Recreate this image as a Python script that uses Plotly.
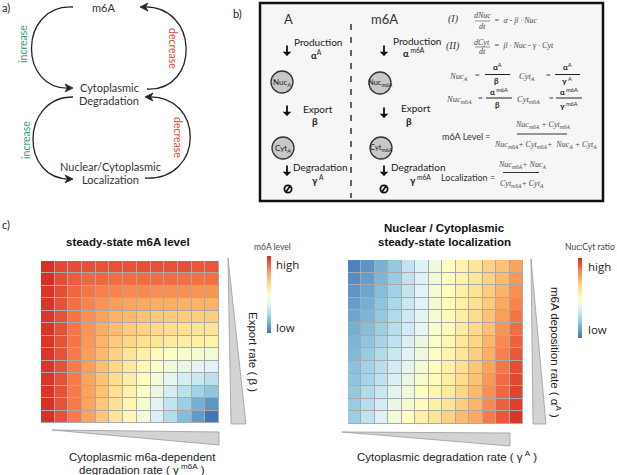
import plotly.graph_objects as go

W, H = 617, 475

# ---------------- data ----------------
grid_rows = list(range(13))
grid_cols = list(range(13))

# steady-state m6A level (rows: top -> bottom, cols: left -> right), 0 = low, 1 = high
m6a_level = [
    [1.00, .95, .94, .93, .93, .93, .93, .93, .93, .93, .93, .92, .92],
    [1.00, .94, .91, .89, .89, .88, .88, .88, .88, .88, .87, .87, .87],
    [.99, .94, .89, .86, .84, .83, .82, .82, .81, .81, .81, .80, .80],
    [.99, .93, .87, .83, .80, .78, .77, .76, .75, .75, .74, .74, .74],
    [.99, .93, .86, .81, .77, .74, .72, .70, .69, .68, .68, .67, .67],
    [.99, .93, .86, .80, .75, .71, .68, .66, .64, .63, .62, .61, .61],
    [.99, .93, .86, .79, .73, .68, .65, .62, .60, .58, .57, .56, .55],
    [.99, .93, .85, .78, .72, .66, .61, .56, .52, .49, .47, .46, .45],
    [.99, .93, .85, .78, .71, .65, .59, .53, .48, .44, .41, .39, .38],
    [.99, .93, .85, .77, .70, .63, .57, .51, .45, .40, .35, .32, .29],
    [.99, .93, .85, .77, .70, .62, .55, .48, .42, .35, .29, .23, .19],
    [1.00, .93, .85, .77, .69, .62, .54, .46, .39, .31, .22, .13, .07],
    [1.00, .93, .85, .77, .69, .61, .53, .44, .36, .27, .17, .08, .00],
]

# nuclear / cytoplasmic steady-state localization
nuc_cyt_ratio = [
    [.03, .07, .14, .20, .30, .37, .44, .50, .55, .60, .66, .70, .77],
    [.05, .09, .15, .21, .30, .37, .44, .50, .55, .60, .66, .72, .79],
    [.07, .11, .17, .23, .31, .38, .45, .51, .56, .61, .67, .74, .81],
    [.09, .13, .19, .25, .32, .38, .45, .51, .56, .62, .68, .76, .83],
    [.11, .15, .20, .26, .33, .39, .46, .52, .57, .63, .70, .78, .86],
    [.13, .17, .22, .28, .34, .40, .47, .52, .58, .64, .71, .80, .88],
    [.15, .19, .24, .30, .36, .42, .48, .53, .59, .65, .73, .82, .90],
    [.16, .21, .26, .32, .38, .43, .49, .54, .60, .67, .75, .84, .92],
    [.18, .23, .28, .34, .40, .45, .51, .56, .62, .69, .77, .86, .94],
    [.19, .24, .30, .36, .42, .47, .52, .57, .63, .70, .79, .88, .95],
    [.20, .26, .32, .39, .44, .49, .54, .59, .65, .72, .81, .89, .96],
    [.21, .28, .34, .41, .46, .51, .56, .61, .67, .73, .82, .90, .97],
    [.22, .30, .37, .45, .50, .56, .60, .66, .72, .76, .85, .92, .99],
]

colorscale = [
    [0.0, '#4575b4'], [0.125, '#74add1'], [0.25, '#abd9e9'], [0.375, '#e0f3f8'],
    [0.5, '#ffffbf'], [0.625, '#fee090'], [0.75, '#fdae61'], [0.875, '#f46d43'],
    [1.0, '#d73027'],
]

# ---------------- helpers ----------------
def X(v):
    return v / W

def Y(v):
    return 1 - v / H

annotations = []
shapes = []

SANS = 'Lato'
ARIAL = 'Liberation Sans'
SERIF = 'Liberation Serif'


def txt(x, y, s, size=10, color='#222', family=SANS, angle=0, xa='center', ya='middle'):
    annotations.append(dict(
        x=X(x), y=Y(y), xref='paper', yref='paper', text=s, showarrow=False,
        font=dict(size=size, color=color, family=family), textangle=angle,
        xanchor=xa, yanchor=ya, borderpad=0))


def path(pts_str, line_color='#222', width=1.3, fill=None):
    d = dict(type='path', xref='paper', yref='paper', path=pts_str,
             line=dict(color=line_color, width=width))
    if fill:
        d['fillcolor'] = fill
    shapes.append(d)


def P(x, y):
    return f'{X(x):.5f},{Y(y):.5f}'


def bezier(p0, p1, p2, p3, **kw):
    path(f'M {P(*p0)} C {P(*p1)} {P(*p2)} {P(*p3)}', **kw)


def arrowhead(tip, direction):
    tx, ty = tip
    s = 1 if direction == 'right' else -1
    pts = [(tx, ty), (tx - s * 8, ty - 4), (tx - s * 5.5, ty), (tx - s * 8, ty + 4)]
    d = 'M ' + ' L '.join(P(*p) for p in pts) + ' Z'
    path(d, line_color='#222', width=0.8, fill='#222')


def line(x0, y0, x1, y1, color='#000', width=1, dash=None):
    ln = dict(color=color, width=width)
    if dash:
        ln['dash'] = dash
    shapes.append(dict(type='line', xref='paper', yref='paper', x0=X(x0), y0=Y(y0),
                       x1=X(x1), y1=Y(y1), line=ln))


def circle(cx, cy, r, fill='#c8c8c8', color='#333', width=1.3):
    shapes.append(dict(type='circle', xref='paper', yref='paper', x0=X(cx - r), x1=X(cx + r),
                       y0=Y(cy + r), y1=Y(cy - r), fillcolor=fill,
                       line=dict(color=color, width=width)))


def down_arrow(x, y_tail, y_head):
    annotations.append(dict(x=X(x), y=Y(y_head), xref='paper', yref='paper', ax=0,
                            ay=-(y_head - y_tail), showarrow=True, arrowhead=1, arrowsize=0.8,
                            arrowwidth=1.8, arrowcolor='#111', text=''))


def tri(pts, fill='#d3d3d3', color='#9a9a9a'):
    d = 'M ' + ' L '.join(P(*p) for p in pts) + ' Z'
    path(d, line_color=color, width=0.8, fill=fill)


# ---------------- panel a ----------------
txt(6, 8, 'a)', size=11, color='#222')
txt(103, 8, 'm6A', size=11, color='#333')
txt(109, 88, 'Cytoplasmic', size=11, color='#333')
txt(109, 100, 'Degradation', size=11, color='#333')
txt(110, 167, 'Nuclear/Cytoplasmic', size=11, color='#333')
txt(110, 179, 'Localization', size=11, color='#333')

GREEN = '#3d9c6c'
RED = '#dc4a3e'
txt(23, 44, 'increase', size=10.5, color=GREEN, angle=-90)
txt(173, 48, 'decrease', size=10.5, color=RED, angle=90)
txt(26, 140, 'increase', size=10.5, color=GREEN, angle=-90)
txt(178, 137, 'decrease', size=10.5, color=RED, angle=90)

bezier((73, 7), (18, 4), (18, 92), (71, 88))
arrowhead((73, 88), 'right')
bezier((147, 89), (200, 92), (200, 4), (142, 7))
arrowhead((140, 7), 'left')
bezier((73, 97), (20, 97), (20, 181), (71, 179))
arrowhead((73, 179), 'right')
bezier((145, 178), (205, 181), (205, 94), (147, 97))
arrowhead((145, 97), 'left')

# ---------------- panel b ----------------
txt(237, 13, 'b)', size=11, color='#222')
shapes.append(dict(type='rect', xref='paper', yref='paper', x0=X(260), x1=X(603), y0=Y(201), y1=Y(3),
                   fillcolor='#f6f6f6', line=dict(color='#111', width=2.5), layer='below'))
line(351, 24, 351, 198, color='#111', width=1.3, dash='6px,7px')

txt(288, 19, 'A', size=13, color='#333')
txt(384, 19, 'm6A', size=13, color='#333')

LB = '#1a1a1a'
# column A
down_arrow(287, 44, 56)
txt(318, 42, 'Production', size=10, color=LB)
txt(316, 54, '<b>α</b><sup>A</sup>', size=9.5, color=LB)
circle(282, 82, 11)
txt(282, 82, 'Nuc<sub>A</sub>', size=8, color=LB)
down_arrow(287, 104, 116)
txt(318, 109, 'Export', size=10, color=LB)
txt(315, 121, '<b>β</b>', size=10, color=LB)
circle(283, 148, 11)
txt(283, 148, 'Cyt<sub>A</sub>', size=8, color=LB)
down_arrow(287, 164, 176)
txt(320, 167, 'Degradation', size=10, color=LB)
txt(318, 179, '<b>γ</b><sup> A</sup>', size=9.5, color=LB)
circle(288, 189, 3.6, fill='rgba(0,0,0,0)', color='#111', width=1.8)
line(285.5, 192.5, 290.5, 185.5, color='#111', width=1.8)

# column m6A
down_arrow(384, 44, 56)
txt(417, 41, 'Production', size=10, color=LB)
txt(414, 53, '<b>α</b><sup> m6A</sup>', size=9.5, color=LB)
circle(380, 83, 11)
txt(380, 83, 'Nuc<sub>m6A</sub>', size=7.5, color=LB)
down_arrow(384, 106, 118)
txt(416, 108, 'Export', size=10, color=LB)
txt(409, 121, '<b>β</b>', size=10, color=LB)
circle(381, 148, 11)
txt(381, 148, 'Cyt<sub>m6A</sub>', size=7.5, color=LB)
down_arrow(384, 164, 176)
txt(418, 167, 'Degradation', size=10, color=LB)
txt(420, 179, '<b>γ</b><sup> m6A</sup>', size=9.5, color=LB)
circle(384, 189, 3.6, fill='rgba(0,0,0,0)', color='#111', width=1.8)
line(381.5, 192.5, 386.5, 185.5, color='#111', width=1.8)

# equations
EQ = '#4a4a4a'
txt(453, 19, '<i>(I)</i>', size=10, color='#333', family=SERIF)
txt(482, 16, '<i>dNuc</i>', size=8, color=EQ, family=SERIF)
line(475, 21, 490, 21, color='#666', width=0.7)
txt(482, 26, '<i>dt</i>', size=8, color=EQ, family=SERIF)
txt(493, 20, '<i>=  α - β · Nuc</i>', size=8, color=EQ, family=SERIF, xa='left')

txt(453, 46, '<i>(II)</i>', size=10, color='#333', family=SERIF)
txt(482, 42, '<i>dCyt</i>', size=8, color=EQ, family=SERIF)
line(475, 47, 490, 47, color='#666', width=0.7)
txt(482, 52, '<i>dt</i>', size=8, color=EQ, family=SERIF)
txt(493, 46, '<i>=  β · Nuc - γ · Cyt</i>', size=8, color=EQ, family=SERIF, xa='left')

# Nuc_A and Cyt_A
txt(458, 76, '<i>Nuc</i><sub><i>A</i></sub>', size=8.5, color=EQ, family=SERIF)
txt(477, 75, '=', size=8, color=EQ, family=SERIF)
txt(497, 67, '<b>α</b><sup>A</sup>', size=8, color=LB)
line(485, 74.5, 510, 74.5, color='#222', width=1)
txt(496, 81, '<b>β</b>', size=8, color=LB)
txt(527, 76, '<i>Cyt</i><sub><i>A</i></sub>', size=8.5, color=EQ, family=SERIF)
txt(548, 75, '=', size=8, color=EQ, family=SERIF)
txt(567, 67, '<b>α</b><sup>A</sup>', size=8, color=LB)
line(555, 74.5, 580, 74.5, color='#222', width=1)
txt(567, 81, '<b>γ</b><sup> A</sup>', size=8, color=LB)

# Nuc_m6A and Cyt_m6A
txt(459, 99, '<i>Nuc</i><sub><i>m6A</i></sub>', size=8.5, color=EQ, family=SERIF)
txt(481, 98, '=', size=8, color=EQ, family=SERIF)
txt(499, 91, '<b>α</b><sup> m6A</sup>', size=8, color=LB)
line(486, 98, 512, 98, color='#222', width=1)
txt(497, 105, '<b>β</b>', size=8, color=LB)
txt(528, 99, '<i>Cyt</i><sub><i>m6A</i></sub>', size=8.5, color=EQ, family=SERIF)
txt(551, 98, '=', size=8, color=EQ, family=SERIF)
txt(569, 91, '<b>α</b><sup> m6A</sup>', size=8, color=LB)
line(556, 98, 582, 98, color='#222', width=1)
txt(569, 105, '<b>γ</b><sup> m6A</sup>', size=8, color=LB)

# m6A level
txt(466, 137, 'm6A Level =', size=9, color='#333')
txt(543, 125, '<i>Nuc</i><sub><i>m6A</i></sub><i> + Cyt</i><sub><i>m6A</i></sub>',
    size=8, color=EQ, family=SERIF)
line(517, 134, 567, 134, color='#333', width=1)
txt(545, 145, '<i>Nuc</i><sub><i>m6A</i></sub><i>+ Cyt</i><sub><i>m6A</i></sub><i>+  Nuc</i><sub><i>A</i></sub><i> + Cyt</i><sub><i>A</i></sub>',
    size=8, color=EQ, family=SERIF)

# localization
txt(468, 177, 'Localization =', size=9, color='#333')
txt(522, 165, '<i>Nuc</i><sub><i>m6A</i></sub><i>+ Nuc</i><sub><i>A</i></sub>',
    size=8, color=EQ, family=SERIF)
line(503, 172.5, 539, 172.5, color='#333', width=1)
txt(522, 184, '<i>Cyt</i><sub><i>m6A</i></sub><i>+ Cyt</i><sub><i>A</i></sub>',
    size=8, color=EQ, family=SERIF)

# ---------------- panel c ----------------
txt(6, 225, 'c)', size=11, color='#222')
txt(128, 242, '<b>steady-state m6A level</b>', size=11.5, color='#111', family=ARIAL)
txt(445, 228, '<b>Nuclear / Cytoplasmic</b>', size=11.5, color='#111', family=ARIAL)
txt(444, 242, '<b>steady-state localization</b>', size=11.5, color='#111', family=ARIAL)

txt(272, 247, 'm6A level', size=8.5, color='#444', family=SANS)
txt(275, 264, 'high', size=11.5, color='#222', family='Open Sans', xa='left')
txt(275, 327, 'low', size=11.5, color='#222', family='Open Sans', xa='left')
txt(590, 247, 'Nuc:Cyt ratio', size=8.5, color='#444', family=SANS)
txt(587, 266, 'high', size=11.5, color='#222', family='Open Sans', xa='left')
txt(587, 329, 'low', size=11.5, color='#222', family='Open Sans', xa='left')

txt(142, 457, 'Cytoplasmic m6a-dependent', size=11.5, color='#222', family=ARIAL)
txt(142, 469, 'degradation rate ( γ<sup> m6A</sup> )', size=11.5, color='#222', family=ARIAL)
txt(447, 456, 'Cytoplasmic degradation rate ( γ<sup> A</sup> )', size=11.5, color='#222', family=ARIAL)
txt(253, 352, 'Export rate ( β )', size=11.5, color='#222', family=ARIAL, angle=90)
txt(556, 352, 'm6A deposition rate ( α<sup>A</sup> )', size=11.5, color='#222', family=ARIAL, angle=90)

tri([(228, 258), (231, 424), (246, 424)])
tri([(52, 430), (219, 432), (219, 445)])
tri([(531, 259), (533, 424), (546, 424)])
tri([(342, 432), (510, 433), (510, 446)])

# heatmap backgrounds (grid lines)
for ax in ('', '2'):
    shapes.append(dict(type='rect', xref='x' + ax, yref='y' + ax, x0=-0.5, x1=12.5, y0=-0.5, y1=12.5,
                       fillcolor='#a9a9a9', line=dict(color='#a9a9a9', width=1), layer='below'))

fig = go.Figure()
fig.add_trace(go.Heatmap(z=m6a_level, x=grid_cols, y=grid_rows, coloraxis='coloraxis',
                         xgap=1, ygap=1, xaxis='x', yaxis='y'))
fig.add_trace(go.Heatmap(z=nuc_cyt_ratio, x=grid_cols, y=grid_rows, coloraxis='coloraxis2',
                         xgap=1, ygap=1, xaxis='x2', yaxis='y2'))

ax_common = dict(visible=False, showgrid=False, zeroline=False, fixedrange=True)
cb_common = dict(thickness=4, thicknessmode='pixels', lenmode='pixels', outlinewidth=0,
                 showticklabels=False, ticks='', xpad=0, ypad=0, xanchor='left', yanchor='top')

fig.update_layout(
    width=W, height=H,
    margin=dict(l=0, r=0, t=0, b=0),
    paper_bgcolor='white', plot_bgcolor='rgba(0,0,0,0)',
    showlegend=False,
    xaxis=dict(domain=[X(41), X(219)], range=[-0.5, 12.5], anchor='y', **ax_common),
    yaxis=dict(domain=[Y(423), Y(261)], range=[12.5, -0.5], anchor='x', **ax_common),
    xaxis2=dict(domain=[X(348), X(523)], range=[-0.5, 12.5], anchor='y2', **ax_common),
    yaxis2=dict(domain=[Y(424), Y(260)], range=[12.5, -0.5], anchor='x2', **ax_common),
    coloraxis=dict(colorscale=colorscale, cmin=0, cmax=1,
                   colorbar=dict(x=X(267), y=Y(256), len=77, **cb_common)),
    coloraxis2=dict(colorscale=colorscale, cmin=0, cmax=1,
                    colorbar=dict(x=X(578), y=Y(258), len=80, **cb_common)),
    annotations=annotations,
    shapes=shapes,
)

fig.write_html('out.html', post_script="document.body.style.margin='0px';",
               config={'displayModeBar': False})
